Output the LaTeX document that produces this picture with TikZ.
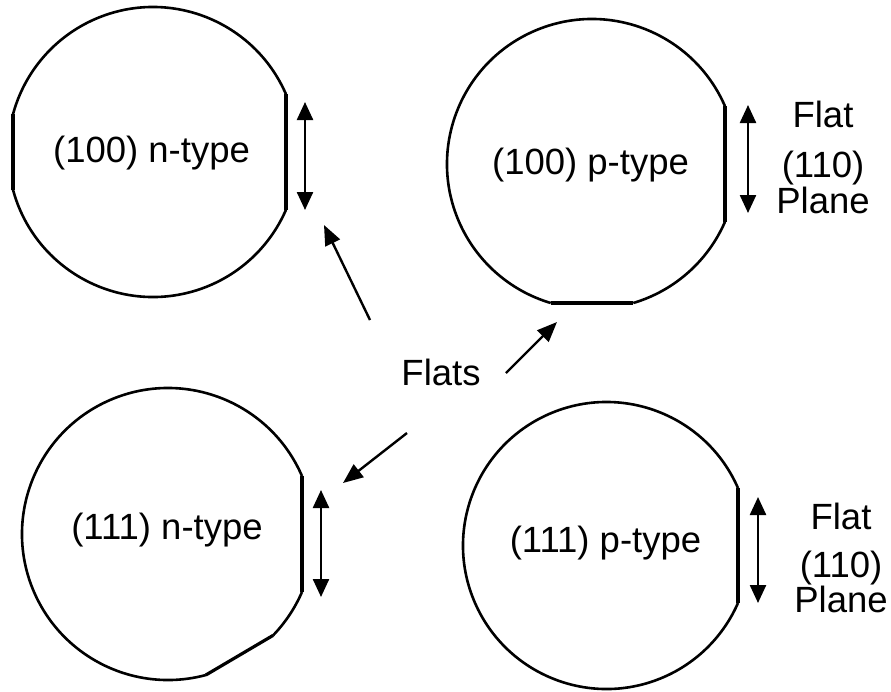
\documentclass[tikz,border=0pt]{standalone}
\usepackage{fontspec}
\setmainfont{Liberation Sans}
\usetikzlibrary{arrows.meta}
\begin{document}
\begin{tikzpicture}[x=1pt,y=-1pt,
  wafer/.style={line width=2.6pt},
  flatline/.style={line width=3.2pt},
  pointer/.style={-{Triangle[length=20pt,width=16pt]}, line width=2.4pt},
  dbl/.style={{Triangle[length=18pt,width=16pt]}-{Triangle[length=18pt,width=16pt]}, line width=2.4pt},
  lbl/.style={inner sep=0pt, anchor=base, font=\fontsize{36.5}{43}\selectfont}]
\useasboundingbox (0,0) rectangle (891,691);

% ---- wafer 1: (100) n-type
\coordinate (c1) at (153,152);
\draw[wafer] (c1) ++(-23.5:145) coordinate (w1a) arc[start angle=-23.5, end angle=-164.93, radius=145] coordinate (w1b);
\draw[wafer] (c1) ++(164.93:145) coordinate (w1c) arc[start angle=164.93, end angle=23.5, radius=145] coordinate (w1d);
\draw[flatline] (w1b) -- (w1c);
\draw[flatline] (w1d) -- (w1a);
\node[lbl] (t1) at (151.5,162) {(100) n-type};
\coordinate (d1t) at (305,102);
\coordinate (d1b) at (305,210);
\draw[dbl] (d1t) -- (d1b);

% ---- wafer 2: (100) p-type
\coordinate (c2) at (592,164);
\draw[wafer] (c2) ++(-23.5:145) coordinate (w2a) arc[start angle=-23.5, end angle=-253.45, radius=145] coordinate (w2b);
\draw[wafer] (c2) ++(73.45:145) coordinate (w2c) arc[start angle=73.45, end angle=23.5, radius=145] coordinate (w2d);
\draw[flatline] (w2b) -- (w2c);
\draw[flatline] (w2d) -- (w2a);
\node[lbl] (t2) at (590.5,174) {(100) p-type};
\coordinate (d2t) at (748,105);
\coordinate (d2b) at (748,213);
\draw[dbl] (d2t) -- (d2b);
\node[lbl] (f2a) at (823,127) {Flat};
\node[lbl] (f2b) at (823,177) {(110)};
\node[lbl] (f2c) at (823,213) {Plane};

% ---- wafer 3: (111) n-type
\coordinate (c3) at (168,534);
\draw[wafer] (c3) ++(-23.4:146) coordinate (w3a) arc[start angle=-23.4, end angle=-285, radius=146] coordinate (w3b);
\draw[wafer] (c3) ++(44:146) coordinate (w3c) arc[start angle=44, end angle=23.4, radius=146] coordinate (w3d);
\draw[flatline] (w3b) -- (w3c);
\draw[flatline] (w3d) -- (w3a);
\node[lbl] (t3) at (167,539) {(111) n-type};
\coordinate (d3t) at (321,490);
\coordinate (d3b) at (321,597);
\draw[dbl] (d3t) -- (d3b);

% ---- wafer 4: (111) p-type
\coordinate (c4) at (606.5,545.5);
\draw[wafer] (c4) ++(-23.6:143.5) coordinate (w4a) arc[start angle=-23.6, end angle=-336.4, radius=143.5] coordinate (w4b);
\draw[flatline] (w4b) -- (w4a);
\node[lbl] (t4) at (605.5,552) {(111) p-type};
\coordinate (d4t) at (758,497);
\coordinate (d4b) at (758,603);
\draw[dbl] (d4t) -- (d4b);
\node[lbl] (f4a) at (841,529) {Flat};
\node[lbl] (f4b) at (841,577) {(110)};
\node[lbl] (f4c) at (841,612) {Plane};

% ---- centre label and pointers
\node[lbl] (flats) at (441,385) {Flats};
\coordinate (pA0) at (370,320);
\coordinate (pA1) at (324,225);
\coordinate (pB0) at (506,373);
\coordinate (pB1) at (557,322);
\coordinate (pC0) at (407,433);
\coordinate (pC1) at (343,483);
\draw[pointer] (pA0) -- (pA1);
\draw[pointer] (pB0) -- (pB1);
\draw[pointer] (pC0) -- (pC1);
\end{tikzpicture}
\end{document}
